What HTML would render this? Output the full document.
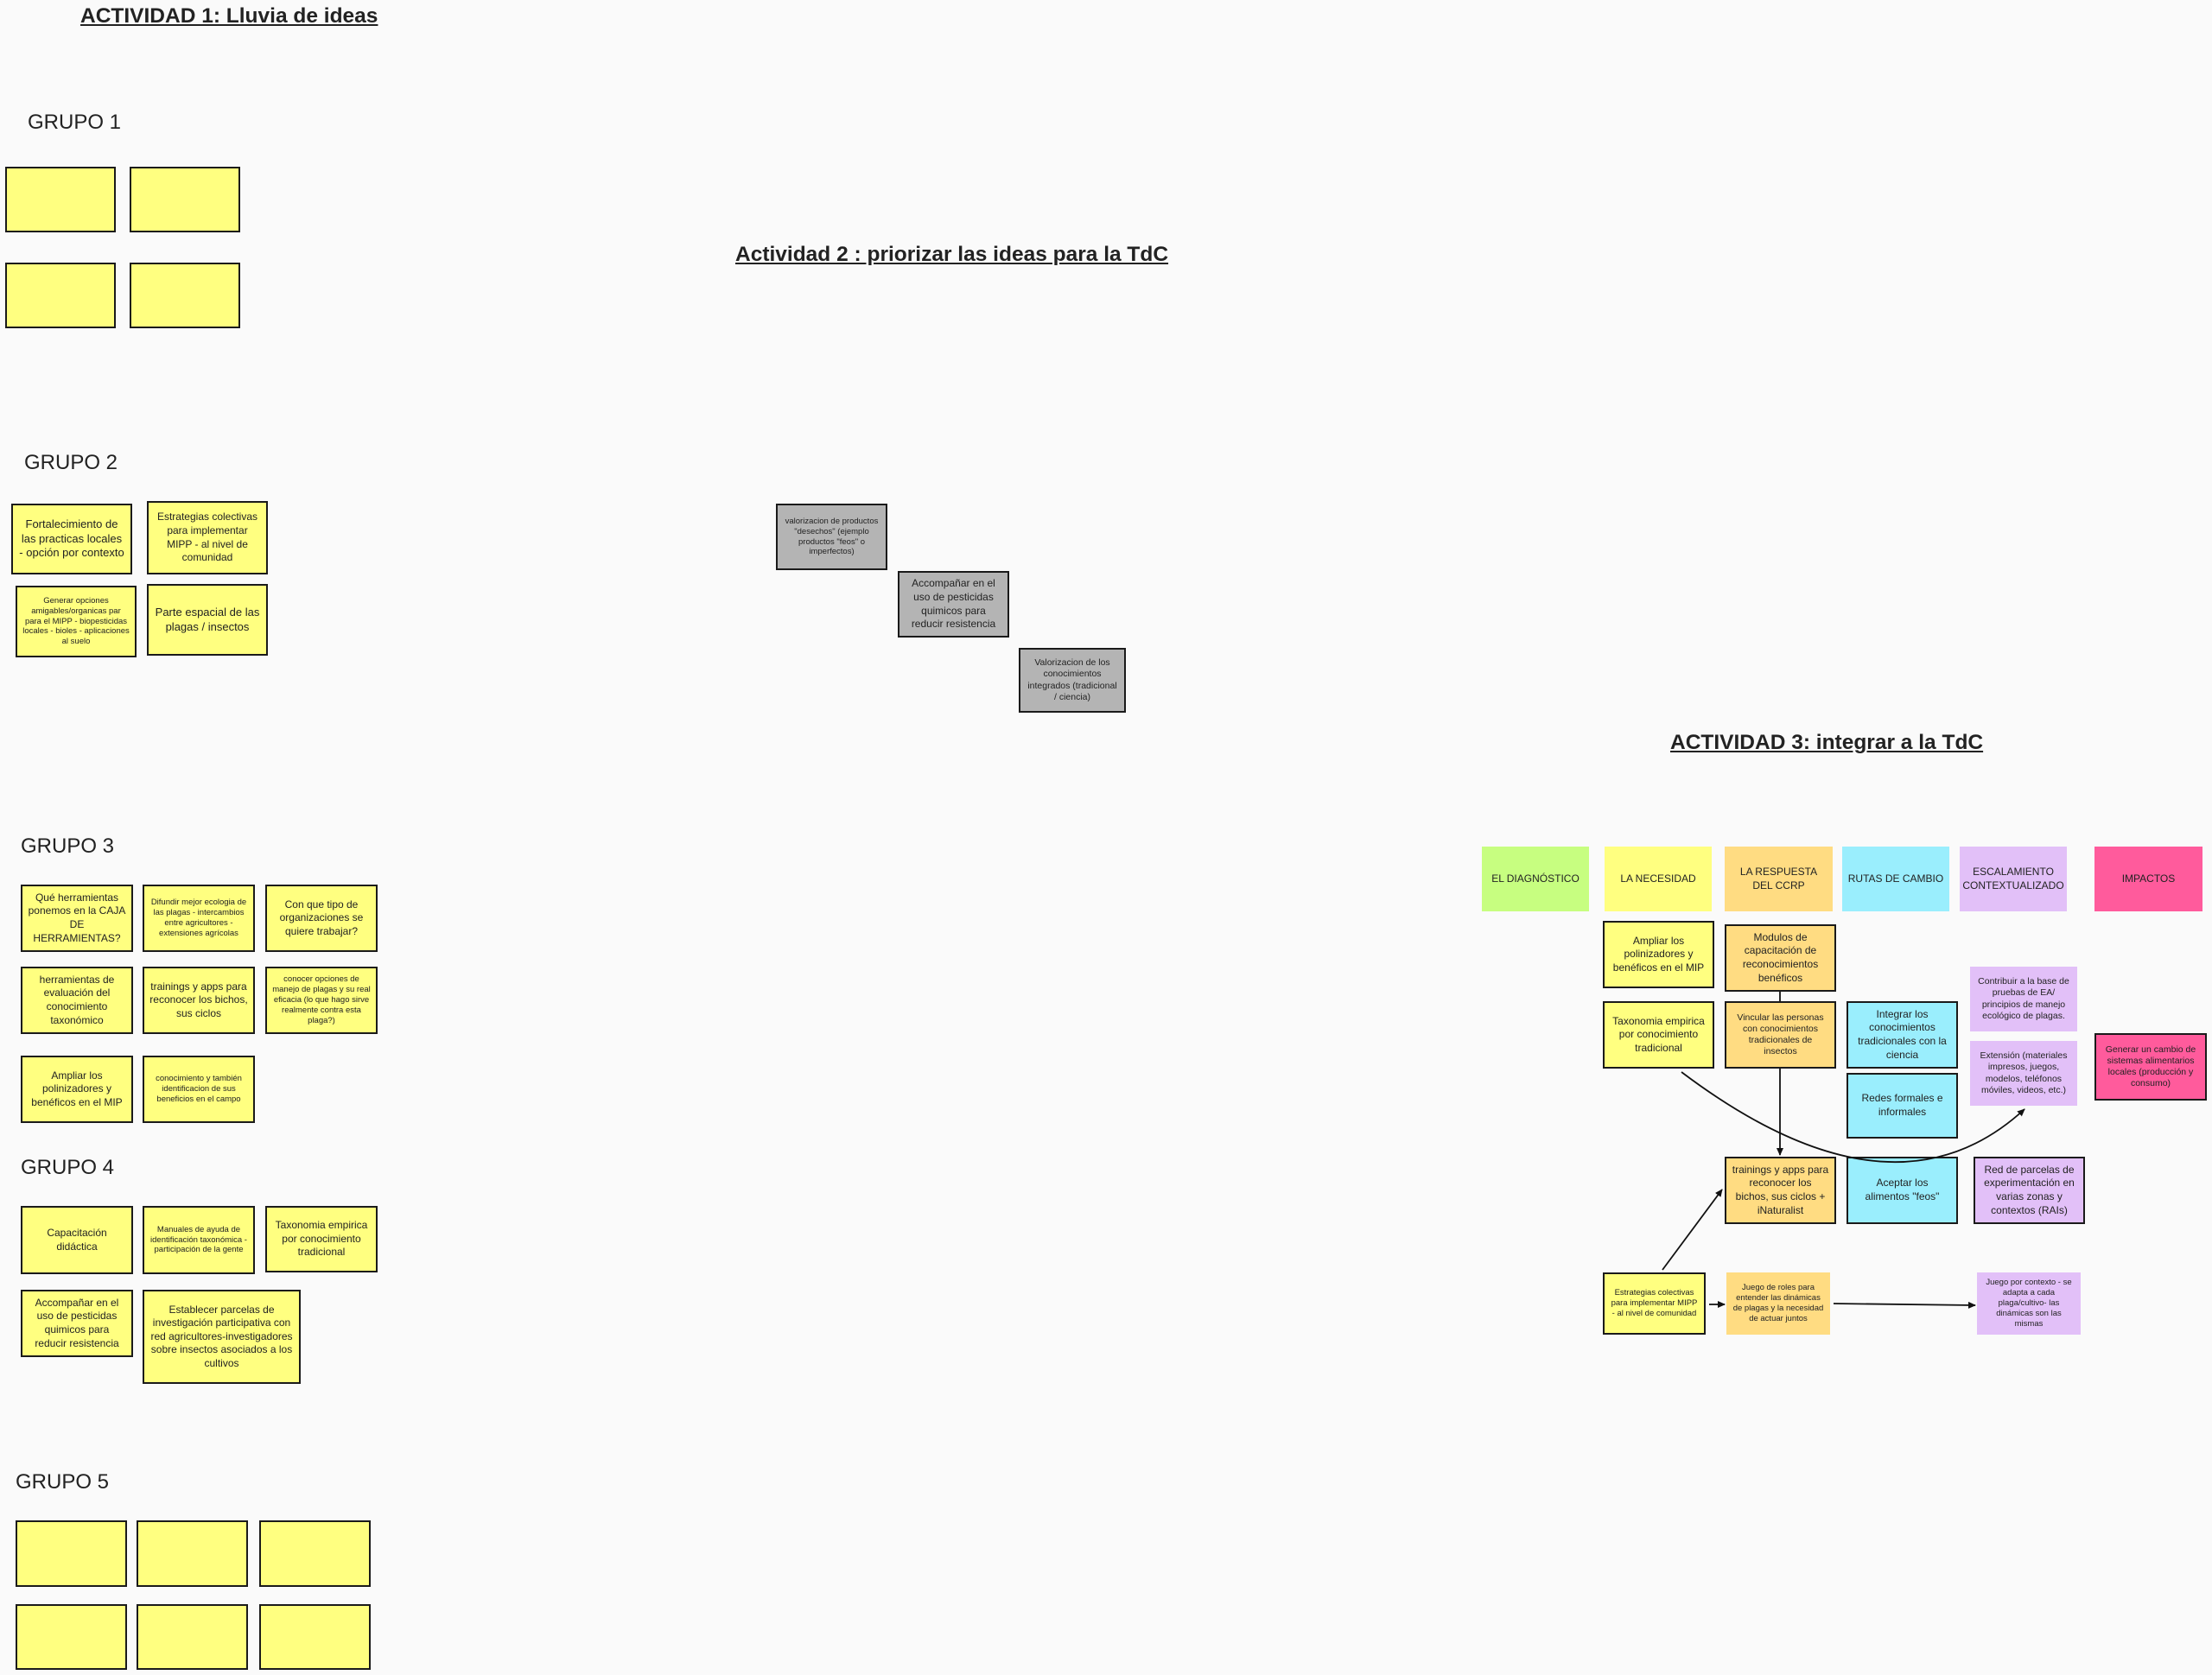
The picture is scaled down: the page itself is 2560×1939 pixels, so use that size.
<!DOCTYPE html>
<html><head><meta charset="utf-8"><style>
body{margin:0;width:2560px;height:1939px;background:#fafafa;position:relative;overflow:hidden;font-family:"Liberation Sans",sans-serif;color:#222}
.b{position:absolute;box-sizing:border-box;display:flex;align-items:center;justify-content:center;text-align:center;font-size:12px;line-height:1.3;padding:3px 6px}
.k{border:2px solid #1a1a1a}
.y{background:#ffff80}.o{background:#ffdc82}.c{background:#9aeefd}.p{background:#e2c0f8}.g{background:#c7fe80}.m{background:#ff5b9c}.gr{background:#b4b4b4}
.s{font-size:9.5px;line-height:1.25}
.t{position:absolute;font-weight:bold;text-decoration:underline;font-size:24.5px;white-space:nowrap}
.h{position:absolute;font-size:24px;white-space:nowrap}
</style></head><body>
<div class="t" style="left:93px;top:5px">ACTIVIDAD 1: Lluvia de ideas</div>
<div class="t" style="left:851px;top:281px">Actividad 2 :  priorizar las ideas para la TdC</div>
<div class="t" style="left:1933px;top:846px">ACTIVIDAD 3: integrar a la TdC</div>

<div class="h" style="left:32px;top:128px">GRUPO 1</div>
<div class="b k y" style="left:6px;top:193px;width:128px;height:76px"></div>
<div class="b k y" style="left:150px;top:193px;width:128px;height:76px"></div>
<div class="b k y" style="left:6px;top:304px;width:128px;height:76px"></div>
<div class="b k y" style="left:150px;top:304px;width:128px;height:76px"></div>

<div class="h" style="left:28px;top:522px">GRUPO 2</div>
<div class="b k y" style="left:13px;top:583px;width:140px;height:82px;font-size:13px">Fortalecimiento de las practicas locales - opción por contexto</div>
<div class="b k y" style="left:170px;top:580px;width:140px;height:85px">Estrategias colectivas para implementar MIPP - al nivel de comunidad</div>
<div class="b k y s" style="left:18px;top:678px;width:140px;height:83px">Generar opciones amigables/organicas par para el MIPP - biopesticidas locales - bioles - aplicaciones al suelo</div>
<div class="b k y" style="left:170px;top:676px;width:140px;height:83px;font-size:13px">Parte espacial de las plagas / insectos</div>

<div class="h" style="left:24px;top:966px">GRUPO 3</div>
<div class="b k y" style="left:24px;top:1024px;width:130px;height:78px">Qué herramientas ponemos en la CAJA DE HERRAMIENTAS?</div>
<div class="b k y s" style="left:165px;top:1024px;width:130px;height:78px">Difundir mejor ecologia de las plagas - intercambios entre agricultores - extensiones agrícolas</div>
<div class="b k y" style="left:307px;top:1024px;width:130px;height:78px">Con que tipo de organizaciones se quiere trabajar?</div>
<div class="b k y" style="left:24px;top:1119px;width:130px;height:78px">herramientas de evaluación del conocimiento taxonómico</div>
<div class="b k y" style="left:165px;top:1119px;width:130px;height:78px">trainings y apps para reconocer los bichos, sus ciclos</div>
<div class="b k y s" style="left:307px;top:1119px;width:130px;height:78px">conocer opciones de manejo de plagas y su real eficacia (lo que hago sirve realmente contra esta plaga?)</div>
<div class="b k y" style="left:24px;top:1222px;width:130px;height:78px">Ampliar los polinizadores y benéficos en el MIP</div>
<div class="b k y s" style="left:165px;top:1222px;width:130px;height:78px">conocimiento y también identificacion de sus beneficios en el campo</div>

<div class="h" style="left:24px;top:1338px">GRUPO 4</div>
<div class="b k y" style="left:24px;top:1396px;width:130px;height:79px">Capacitación didáctica</div>
<div class="b k y s" style="left:165px;top:1396px;width:130px;height:79px">Manuales de ayuda de identificación taxonómica - participación de la gente</div>
<div class="b k y" style="left:307px;top:1396px;width:130px;height:77px">Taxonomia empirica por conocimiento tradicional</div>
<div class="b k y" style="left:24px;top:1493px;width:130px;height:78px">Accompañar en el uso de pesticidas quimicos para reducir resistencia</div>
<div class="b k y" style="left:165px;top:1493px;width:183px;height:109px">Establecer parcelas de investigación participativa con red agricultores-investigadores sobre insectos asociados a los cultivos</div>

<div class="h" style="left:18px;top:1702px">GRUPO 5</div>
<div class="b k y" style="left:18px;top:1760px;width:129px;height:77px"></div>
<div class="b k y" style="left:158px;top:1760px;width:129px;height:77px"></div>
<div class="b k y" style="left:300px;top:1760px;width:129px;height:77px"></div>
<div class="b k y" style="left:18px;top:1857px;width:129px;height:76px"></div>
<div class="b k y" style="left:158px;top:1857px;width:129px;height:76px"></div>
<div class="b k y" style="left:300px;top:1857px;width:129px;height:76px"></div>

<div class="b k gr s" style="left:898px;top:583px;width:129px;height:77px">valorizacion de productos "desechos" (ejemplo productos "feos" o imperfectos)</div>
<div class="b k gr" style="left:1039px;top:661px;width:129px;height:77px">Accompañar en el uso de pesticidas quimicos para reducir resistencia</div>
<div class="b k gr s" style="left:1179px;top:750px;width:124px;height:75px;font-size:10.5px">Valorizacion de los conocimientos integrados (tradicional / ciencia)</div>

<div class="b g" style="left:1715px;top:980px;width:124px;height:75px;font-size:12px">EL DIAGNÓSTICO</div>
<div class="b y" style="left:1857px;top:980px;width:124px;height:75px;font-size:12px">LA NECESIDAD</div>
<div class="b o" style="left:1996px;top:980px;width:125px;height:75px;font-size:12px">LA RESPUESTA DEL CCRP</div>
<div class="b c" style="left:2132px;top:980px;width:124px;height:75px;font-size:12px">RUTAS DE CAMBIO</div>
<div class="b p" style="left:2268px;top:980px;width:124px;height:75px;font-size:12px">ESCALAMIENTO CONTEXTUALIZADO</div>
<div class="b m" style="left:2424px;top:980px;width:125px;height:75px;font-size:12px">IMPACTOS</div>

<div class="b k y" style="left:1855px;top:1066px;width:129px;height:78px">Ampliar los polinizadores y benéficos en el MIP</div>
<div class="b k o" style="left:1996px;top:1070px;width:129px;height:78px">Modulos de capacitación de reconocimientos benéficos</div>
<div class="b k y" style="left:1855px;top:1159px;width:129px;height:78px">Taxonomia empirica por conocimiento tradicional</div>
<div class="b k o s" style="left:1996px;top:1159px;width:129px;height:78px;font-size:10.5px">Vincular las personas con conocimientos tradicionales de insectos</div>
<div class="b k c" style="left:2137px;top:1159px;width:129px;height:78px">Integrar los conocimientos tradicionales con la ciencia</div>
<div class="b k c" style="left:2137px;top:1242px;width:129px;height:76px">Redes formales e informales</div>
<div class="b p s" style="left:2280px;top:1119px;width:124px;height:75px;font-size:10.5px">Contribuir a la base de pruebas de EA/ principios de manejo ecológico de plagas.</div>
<div class="b p s" style="left:2280px;top:1205px;width:124px;height:75px;font-size:10.5px">Extensión (materiales impresos, juegos, modelos, teléfonos móviles, videos, etc.)</div>
<div class="b k m s" style="left:2424px;top:1196px;width:130px;height:78px;font-size:10.5px">Generar un cambio de sistemas alimentarios locales (producción y consumo)</div>
<div class="b k o" style="left:1996px;top:1339px;width:129px;height:78px">trainings y apps para reconocer los bichos, sus ciclos + iNaturalist</div>
<div class="b k c" style="left:2137px;top:1339px;width:129px;height:78px">Aceptar los alimentos "feos"</div>
<div class="b k p" style="left:2284px;top:1339px;width:129px;height:78px">Red de parcelas de experimentación en varias zonas y contextos (RAIs)</div>
<div class="b k y s" style="left:1855px;top:1473px;width:119px;height:72px">Estrategias colectivas para implementar MIPP - al nivel de comunidad</div>
<div class="b o s" style="left:1998px;top:1473px;width:120px;height:72px">Juego de roles para entender las dinámicas de plagas y la necesidad de actuar juntos</div>
<div class="b p s" style="left:2288px;top:1473px;width:120px;height:72px">Juego por contexto - se adapta a cada plaga/cultivo- las dinámicas son las mismas</div>

<svg width="2560" height="1939" style="position:absolute;left:0;top:0">
<defs><marker id="a" markerUnits="userSpaceOnUse" markerWidth="9" markerHeight="8" refX="8" refY="4" orient="auto"><path d="M0,0L9,4L0,8z" fill="#111"/></marker></defs>
<g stroke="#111" stroke-width="1.8" fill="none">
<line x1="2060" y1="1148" x2="2060" y2="1159"/>
<line x1="2060" y1="1237" x2="2060" y2="1337" marker-end="url(#a)"/>
<path d="M1946,1241 Q2190,1425 2343,1284" marker-end="url(#a)"/>
<line x1="1924" y1="1470" x2="1993" y2="1377" marker-end="url(#a)"/>
<line x1="1978" y1="1510" x2="1996" y2="1510" marker-end="url(#a)"/>
<line x1="2122" y1="1509" x2="2286" y2="1511" marker-end="url(#a)"/>
</g></svg>
</body></html>
